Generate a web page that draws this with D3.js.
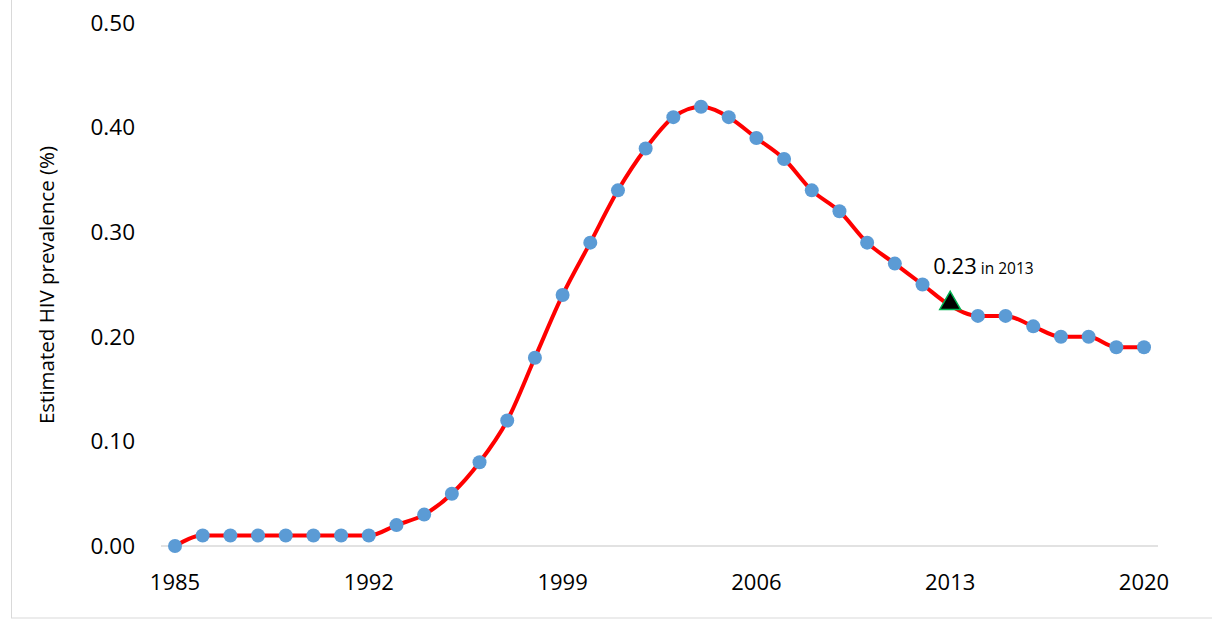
<!DOCTYPE html>
<html><head><meta charset="utf-8">
<script src="https://cdn.jsdelivr.net/npm/d3@7"></script>
<style>body{margin:0;background:#fff}svg{font-family:"Open Sans",Arial,sans-serif}</style>
</head><body><div id="chart"></div>
<script>
const years = d3.range(1985, 2021);
const prevalence = [0, .01, .01, .01, .01, .01, .01, .01, .02, .03, .05, .08, .12, .18, .24, .29, .34, .38, .41, .42,
  .41, .39, .37, .34, .32, .29, .27, .25, .23, .22, .22, .21, .20, .20, .19, .19];
const xTicks = [1985, 1992, 1999, 2006, 2013, 2020];
const yTicks = [0, .1, .2, .3, .4, .5];
const highlightYear = 2013;

const W = 1212, H = 627;
const svg = d3.select("#chart").append("svg").attr("width", W).attr("height", H);

// outer frame
svg.append("rect").attr("x", 11.5).attr("y", -2).attr("width", W).attr("height", 620)
  .attr("fill", "none").attr("stroke", "#d9d9d9");

const x = d3.scaleLinear().domain([1985, 2020]).range([175, 1144]);
const y = d3.scaleLinear().domain([0, .5]).range([546, 23]);

svg.append("line").attr("x1", 161).attr("x2", 1158).attr("y1", y(0)).attr("y2", y(0))
  .attr("stroke", "#d9d9d9").attr("stroke-width", 1.5);

svg.selectAll(".yt").data(yTicks).join("text")
  .attr("x", 135).attr("y", d => y(d)).attr("dy", "0.35em").attr("text-anchor", "end")
  .attr("font-size", 22.5).text(d => d.toFixed(2));
svg.selectAll(".xt").data(xTicks).join("text")
  .attr("x", d => x(d)).attr("y", 590).attr("text-anchor", "middle")
  .attr("font-size", 22).text(d => d);

svg.append("text").attr("transform", "translate(54,285) rotate(-90)")
  .attr("text-anchor", "middle").attr("font-size", 20.5).text("Estimated HIV prevalence (%)");

const pts = years.map((yr, i) => ({yr, v: prevalence[i]}));
svg.append("path").datum(pts)
  .attr("d", d3.line().x(d => x(d.yr)).y(d => y(d.v)).curve(d3.curveMonotoneX))
  .attr("fill", "none").attr("stroke", "#ff0000").attr("stroke-width", 4);

svg.selectAll(".pt").data(pts.filter(d => d.yr !== highlightYear)).join("circle")
  .attr("cx", d => x(d.yr)).attr("cy", d => y(d.v)).attr("r", 7).attr("fill", "#5b9bd5");

const h = pts.find(d => d.yr === highlightYear);
svg.append("path").attr("d", d3.symbol(d3.symbolTriangle, 190)())
  .attr("transform", `translate(${x(h.yr)},${y(h.v) - 2})`)
  .attr("fill", "#000").attr("stroke", "#00b050").attr("stroke-width", 1.5);

const lab = svg.append("text").attr("x", x(h.yr) - 17).attr("y", 274);
lab.append("tspan").attr("font-size", 22).text(h.v.toFixed(2));
lab.append("tspan").attr("font-size", 15.5).text(" in " + h.yr);
</script></body></html>
